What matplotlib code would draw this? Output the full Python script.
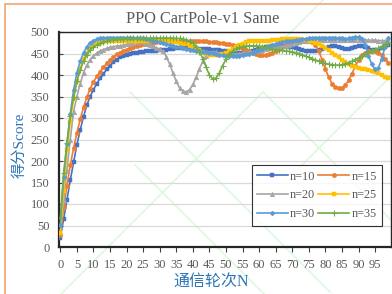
import numpy as np
import matplotlib
matplotlib.use("Agg")
import matplotlib.pyplot as plt
from matplotlib.patches import Rectangle
from matplotlib.lines import Line2D

# rounds 0..99
rounds = np.arange(100)

n10 = [22, 65, 110, 155, 197, 238, 272, 303, 330, 350,
       366, 380, 392, 402, 413, 422, 430, 436, 441, 444,
       447, 449, 451, 452, 453, 454, 455, 455, 455, 456,
       457, 458, 459, 460, 461, 462, 463, 463, 463, 462,
       462, 462, 461, 461, 461, 460, 459, 458, 457, 456,
       455, 454, 453, 452, 452, 452, 453, 454, 456, 458,
       460, 462, 464, 466, 467, 468, 468, 468, 467, 466,
       464, 462, 460, 458, 456, 455, 455, 456, 458, 461,
       463, 465, 467, 467, 465, 462, 460, 460, 462, 465,
       467, 468, 466, 462, 458, 457, 459, 463, 467, 470]

n15 = [27, 93, 142, 190, 230, 265, 297, 325, 348, 368,
       384, 397, 408, 418, 427, 435, 442, 448, 452, 456,
       459, 462, 465, 467, 469, 471, 472, 474, 475, 476,
       477, 478, 478, 479, 479, 479, 479, 479, 479, 478,
       478, 478, 478, 478, 478, 477, 477, 476, 475, 474,
       473, 472, 470, 467, 464, 461, 458, 455, 452, 449,
       447, 446, 446, 448, 451, 455, 460, 465, 470, 474,
       477, 479, 480, 480, 480, 479, 477, 470, 455, 436,
       414, 395, 380, 372, 369, 370, 376, 388, 403, 420,
       435, 446, 452, 455, 456, 455, 452, 446, 438, 428]

n20 = [35, 110, 180, 250, 315, 350, 380, 405, 423, 436,
       445, 451, 456, 459, 462, 464, 466, 467, 468, 469,
       471, 473, 475, 477, 478, 476, 473, 470, 467, 463,
       460, 455, 443, 425, 405, 385, 370, 362, 360, 366,
       378, 395, 415, 432, 445, 452, 454, 453, 450, 448,
       447, 447, 448, 449, 450, 451, 452, 453, 454, 455,
       456, 458, 460, 462, 464, 465, 466, 467, 468, 470,
       472, 474, 476, 478, 479, 480, 481, 482, 482, 482,
       482, 482, 482, 482, 482, 482, 482, 482, 482, 482,
       482, 482, 481, 481, 481, 481, 480, 480, 480, 480]

n25 = [33, 130, 225, 290, 345, 385, 415, 437, 452, 462,
       468, 472, 475, 477, 478, 479, 479, 479, 479, 479,
       479, 479, 479, 479, 479, 479, 480, 480, 481, 481,
       481, 480, 479, 478, 477, 476, 475, 473, 471, 468,
       465, 462, 458, 454, 450, 447, 446, 446, 447, 449,
       452, 456, 460, 465, 469, 473, 476, 478, 479, 480,
       480, 480, 480, 480, 481, 481, 482, 483, 484, 484,
       484, 484, 483, 482, 481, 480, 478, 475, 471, 467,
       462, 457, 452, 447, 441, 435, 430, 425, 421, 418,
       416, 415, 414, 412, 410, 407, 404, 400, 396, 393]

n30 = [52, 163, 240, 310, 365, 405, 432, 452, 466, 475,
       480, 483, 485, 486, 487, 487, 487, 487, 487, 487,
       487, 487, 487, 486, 486, 485, 484, 482, 480, 478,
       476, 474, 472, 470, 468, 466, 464, 462, 460, 458,
       457, 456, 455, 454, 453, 452, 451, 449, 447, 446,
       445, 444, 444, 444, 445, 446, 448, 450, 452, 455,
       458, 461, 464, 467, 470, 472, 474, 476, 478, 479,
       480, 481, 482, 483, 484, 485, 486, 487, 487, 487,
       487, 487, 487, 487, 486, 485, 484, 485, 487, 488,
       488, 484, 470, 445, 425, 413, 416, 438, 465, 485]

n35 = [68, 172, 243, 305, 350, 385, 412, 432, 447, 458,
       465, 470, 474, 477, 479, 481, 482, 483, 484, 484,
       485, 485, 485, 485, 486, 486, 486, 486, 486, 486,
       486, 486, 486, 486, 486, 485, 485, 484, 482, 479,
       474, 466, 454, 438, 418, 400, 391, 393, 405, 422,
       437, 448, 456, 461, 464, 466, 467, 468, 468, 468,
       467, 466, 464, 462, 460, 459, 458, 457, 456, 455,
       454, 452, 450, 447, 444, 441, 438, 435, 432, 429,
       427, 425, 424, 423, 423, 424, 426, 429, 432, 436,
       440, 444, 448, 451, 455, 458, 462, 466, 470, 474]

labels = ['n=10', 'n=15', 'n=20', 'n=25', 'n=30', 'n=35']
series = [n10, n15, n20, n25, n30, n35]
colors = ['#4472C4', '#ED7D31', '#A5A5A5', '#FFC000', '#5B9BD5', '#70AD47']
markers = ['s', 'o', '^', 's', 'D', '+']
msizes = [3.2, 3.2, 3.4, 2.4, 2.6, 4.0]

serif = ['Liberation Serif', 'Noto Sans CJK SC']
plt.rcParams['font.family'] = serif
grey = '#595959'
blue = '#2E75B6'

fig = plt.figure(figsize=(3.92, 2.94), dpi=100)
ax = fig.add_axes([59/392, 1 - 247/294, 332/392, 215/294])
ax.set_facecolor('none')

# orange frame of the original figure
fig.patches.append(Rectangle((5/392, -0.1), 1.2, 1 - 4/294 + 0.1,
                             transform=fig.transFigure, fill=False,
                             edgecolor='#F4B183', lw=1.4))

# faint green watermark lines behind the chart (pixel coords, y from top)
wm = [((40, 315), (263, 92)), ((263, 92), (392, 221)),
      ((135, 165), (300, 330)), ((130, 92), (330, 292)),
      ((273, 50), (323, 0)), ((300, 167), (392, 75))]
for (x0, y0), (x1, y1) in wm:
    fig.add_artist(Line2D([x0/392, x1/392], [1 - y0/294, 1 - y1/294],
                          transform=fig.transFigure, color='#DDF8DD',
                          lw=1.2, zorder=-1))

for y, lab, c, m, ms in zip(series, labels, colors, markers, msizes):
    ax.plot(rounds, y, color=c, lw=1.2, marker=m, markersize=ms,
            markeredgewidth=0.8 if m == '+' else 0.3,
            markeredgecolor=c, label=lab, zorder=3)

ax.set_xlim(-0.4, 99.8)
ax.set_ylim(0, 500)
ax.set_xticks(np.arange(0, 100, 5))
ax.set_yticks(np.arange(0, 501, 50))
ax.yaxis.grid(True, color='#D9D9D9', lw=0.9)
ax.set_axisbelow(True)
ax.tick_params(axis='x', direction='out', length=3.5, width=0.8,
               labelsize=9, labelcolor=grey, color='#404040', pad=5)
ax.tick_params(axis='y', direction='in', length=3, width=0.8,
               labelsize=9, labelcolor=grey, color='#404040', pad=7)
for s in ax.spines.values():
    s.set_color('#262626')
    s.set_linewidth(1.0)
ax.spines['left'].set_linewidth(1.6)
ax.spines['bottom'].set_linewidth(1.6)

fig.text(0.518, 0.935, 'PPO CartPole-v1 Same', ha='center', va='center',
         fontsize=11.7, color=grey)
ax.set_ylabel('得分Score', fontsize=11, color=blue)
ax.set_xlabel('通信轮次N', fontsize=11.5, color=blue)
ax.yaxis.set_label_coords(-0.097, 0.474)
ax.xaxis.set_label_coords(0.458, -0.125)

# row-wise legend order: n=10 n=15 / n=20 n=25 / n=30 n=35
h, l = ax.get_legend_handles_labels()
order = [0, 2, 4, 1, 3, 5]
leg = ax.legend([h[i] for i in order], [l[i] for i in order], ncol=2,
                loc='lower right', bbox_to_anchor=(0.974, 0.099),
                fontsize=8.8, frameon=True, fancybox=False,
                edgecolor='black', borderpad=0.45, labelspacing=0.55,
                handlelength=2.5, columnspacing=0.25, handletextpad=0.2,
                borderaxespad=0)
leg.get_frame().set_linewidth(0.8)
for t in leg.get_texts():
    t.set_color(grey)

fig.savefig('out.png', dpi=100)
